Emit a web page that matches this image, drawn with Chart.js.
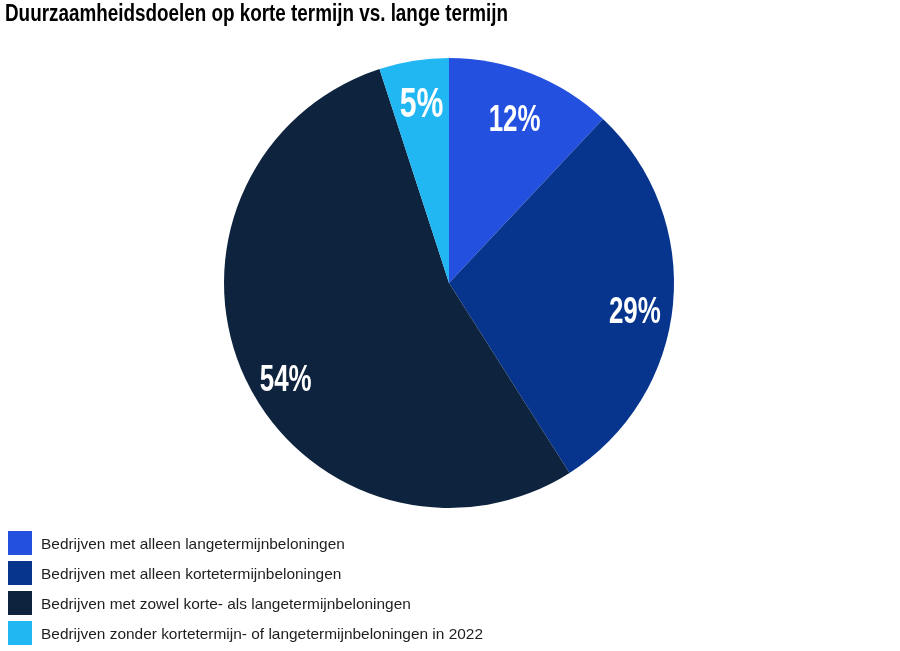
<!DOCTYPE html>
<html>
<head>
<meta charset="utf-8">
<script src="https://cdn.jsdelivr.net/npm/chart.js@4.4.1/dist/chart.umd.min.js"></script>
<style>
html,body{margin:0;padding:0;background:#fff;}
#wrap{width:900px;height:651px;position:relative;}
</style>
</head>
<body>
<div id="wrap"><canvas id="c" width="900" height="651"></canvas></div>
<script>
const titleText = 'Duurzaamheidsdoelen op korte termijn vs. lange termijn';
const categories = [
  'Bedrijven met alleen langetermijnbeloningen',
  'Bedrijven met alleen kortetermijnbeloningen',
  'Bedrijven met zowel korte- als langetermijnbeloningen',
  'Bedrijven zonder kortetermijn- of langetermijnbeloningen in 2022'
];
const values = [12, 29, 54, 5];
const colors = ['#2450E0', '#07358E', '#0E233E', '#21B7F2'];

// label styling nudges (style only, not data)
const labelNudge = [[-1.5, 4.4], [4.4, 9.9], [1.6, 17.4], [1, -1]];
const labelSize = [36, 36, 36, 42];

const customDraw = {
  id: 'customDraw',
  afterDraw(chart) {
    const ctx = chart.ctx;
    // Title
    ctx.save();
    ctx.fillStyle = '#000';
    ctx.textBaseline = 'alphabetic';
    ctx.textAlign = 'left';
    ctx.font = 'bold 23.5px "Liberation Sans Narrow", "Liberation Sans", Arial, sans-serif';
    let w = ctx.measureText(titleText).width;
    ctx.translate(5, 21);
    ctx.scale(503 / w, 1);
    ctx.fillText(titleText, 0, 0);
    ctx.restore();

    // Slice labels
    const meta = chart.getDatasetMeta(0);
    meta.data.forEach((arc, i) => {
      const mid = (arc.startAngle + arc.endAngle) / 2;
      const r = arc.outerRadius * 0.81;
      const x = arc.x + Math.cos(mid) * r + labelNudge[i][0];
      const y = arc.y + Math.sin(mid) * r + labelNudge[i][1];
      const fs = labelSize[i];
      ctx.save();
      ctx.fillStyle = '#fff';
      ctx.font = 'bold ' + fs + 'px "Liberation Sans", Arial, sans-serif';
      ctx.textAlign = 'center';
      ctx.textBaseline = 'alphabetic';
      ctx.translate(x, y + fs * 0.716 / 2);
      ctx.scale(0.72, 1);
      ctx.fillText(chart.data.datasets[0].data[i] + '%', 0, 0);
      ctx.restore();
    });

    // Legend
    ctx.save();
    ctx.font = '15px "Liberation Sans", Arial, sans-serif';
    ctx.textAlign = 'left';
    ctx.textBaseline = 'alphabetic';
    const lw = ctx.measureText(chart.data.labels[3]).width;
    const sx = 442 / lw;
    chart.data.labels.forEach((lab, i) => {
      const y0 = 531 + i * 30;
      ctx.fillStyle = chart.data.datasets[0].backgroundColor[i];
      ctx.fillRect(8, y0, 24, 24);
      ctx.fillStyle = '#1e1e1e';
      ctx.save();
      ctx.translate(41, y0 + 12 + 15 * 0.716 / 2 + 0.5);
      ctx.scale(sx, 1);
      ctx.fillText(lab, 0, 0);
      ctx.restore();
    });
    ctx.restore();
  }
};

new Chart(document.getElementById('c'), {
  type: 'pie',
  data: {
    labels: categories,
    datasets: [{
      data: values,
      backgroundColor: colors,
      borderWidth: 0,
      hoverOffset: 0,
      offset: 0
    }]
  },
  options: {
    responsive: false,
    animation: false,
    layout: { padding: { top: 58, bottom: 143, left: 0, right: 2 } },
    plugins: {
      legend: { display: false },
      title: { display: false },
      tooltip: { enabled: false }
    }
  },
  plugins: [customDraw]
});
</script>
</body>
</html>
